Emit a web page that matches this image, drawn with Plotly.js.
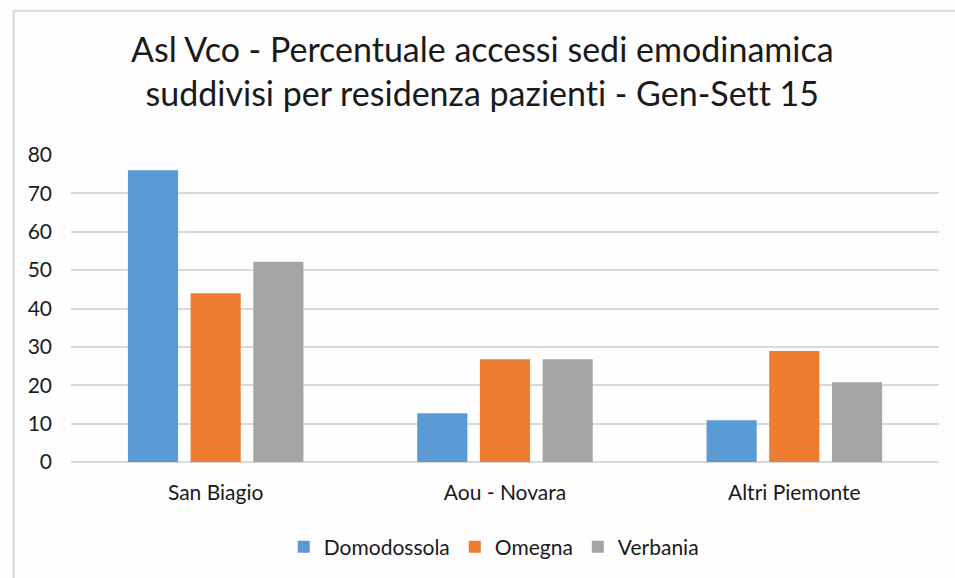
<!DOCTYPE html>
<html>
<head>
<meta charset="utf-8">
<script src="https://cdn.plot.ly/plotly-3.0.1.min.js"></script>
<style>html,body{margin:0;padding:0;background:#fff;}#chart{width:955px;height:578px;}
#chart text{font-variant-ligatures:none;font-feature-settings:"liga" 0,"clig" 0;}</style>
</head>
<body>
<div id="chart"></div>
<script>
const categories = ["San Biagio", "Aou - Novara", "Altri Piemonte"];
const domodossola = [76, 12.7, 10.9];
const omegna = [44, 26.8, 28.9];
const verbania = [52.2, 26.8, 20.8];
const yTicks = [0, 10, 20, 30, 40, 50, 60, 70, 80];

const font = "Lato, 'Open Sans', sans-serif";
const traces = [
  {type: "bar", name: "Domodossola", x: categories, y: domodossola, marker: {color: "#5b9bd5"}},
  {type: "bar", name: "Omegna", x: categories, y: omegna, marker: {color: "#ed7d31"}},
  {type: "bar", name: "Verbania", x: categories, y: verbania, marker: {color: "#a5a5a5"}}
];
const layout = {
  width: 955, height: 578,
  paper_bgcolor: "#fefefe", plot_bgcolor: "#fefefe",
  font: {family: font, color: "#404040"},
  margin: {l: 71, r: 16, t: 155, b: 115},
  title: {
    text: "Asl Vco - Percentuale accessi sedi emodinamica<br>suddivisi per residenza pazienti - Gen-Sett 15",
    font: {family: font, size: 34, color: "#1a1a1a"},
    x: 0.505, xanchor: "center", yref: "container", y: 0.893, yanchor: "top"
  },
  barmode: "group",
  bargap: 0.35,
  bargroupgap: 0.2,
  xaxis: {
    showgrid: false, showline: false, ticks: "",
    tickfont: {size: 21, color: "#1a1a1a"}, ticklabelstandoff: 16
  },
  yaxis: {
    range: [0, 80], tickvals: yTicks, showline: false, ticks: "",
    gridcolor: "#d9d9d9", gridwidth: 1.5,
    zeroline: true, zerolinecolor: "#d9d9d9", zerolinewidth: 1.5,
    tickfont: {size: 21, color: "#1a1a1a"}, ticklabelstandoff: 18
  },
  legend: {
    orientation: "h", x: 0.487, xanchor: "center", y: -0.273, yanchor: "middle",
    font: {size: 21, color: "#1a1a1a"}, itemwidth: 30
  },
  shapes: [{
    type: "rect", xref: "paper", yref: "paper",
    x0: -0.066, x1: 1.1, y0: -0.5, y1: 1.47,
    line: {color: "#d9d9d9", width: 2}
  }]
};
Plotly.newPlot("chart", traces, layout, {displayModeBar: false});
</script>
</body>
</html>
